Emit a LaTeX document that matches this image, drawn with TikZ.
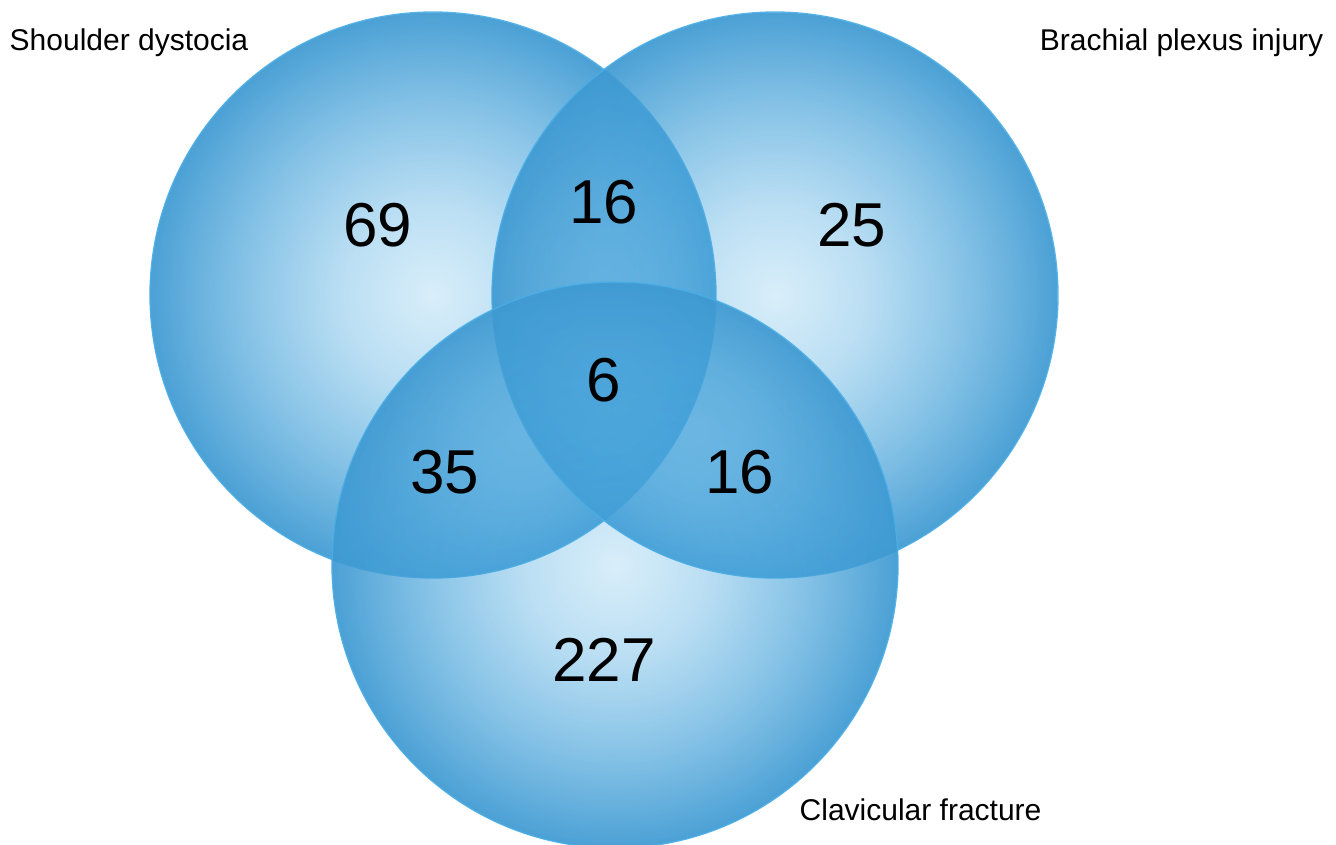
\documentclass[tikz,border=0pt]{standalone}
\usepackage{fontspec}
\setmainfont{Liberation Sans}
\usetikzlibrary{fadings}
\definecolor{ballin}{HTML}{50B0E6}
\definecolor{ballout}{HTML}{3F9AD2}
\definecolor{ballrim}{HTML}{4AAEE6}
\pgfdeclareradialshading{vennball}{\pgfpoint{0bp}{0bp}}{color(0bp)=(ballin); color(25bp)=(ballout); color(50bp)=(ballout)}
\pgfdeclareradialshading{vennalpha}{\pgfpoint{0bp}{0bp}}{color(0bp)=(black!78); color(8bp)=(black!62); color(17.25bp)=(black!33); color(25bp)=(black!6); color(50bp)=(black!6)}
\pgfdeclarefading{vennfade}{\pgfuseshading{vennalpha}}
\begin{document}
\begin{tikzpicture}[
      x=0.75pt,y=-0.75pt,
      ball/.style={shading=vennball, path fading=vennfade},
      rim/.style={draw=ballrim, draw opacity=0.9, line width=1pt},
      count/.style={font=\fontsize{46.5}{46.5}\selectfont},
      setname/.style={font=\fontsize{22.5}{24}\selectfont}
      ]
      \useasboundingbox (0,0) rectangle (1336,844);
      \def\Radius{283}
      \coordinate (SD) at (433,295);
      \coordinate (BP) at (775,295);
      \coordinate (CF) at (615,565);
      
      \shade[ball] (SD) circle (\Radius);
      \draw[rim] (SD) circle (\Radius);
      \shade[ball] (BP) circle (\Radius);
      \draw[rim] (BP) circle (\Radius);
      \shade[ball] (CF) circle (\Radius);
      \draw[rim] (CF) circle (\Radius);
      
      \node[count] (sdonly) at (378,225) {69};
      \node[count] (sdbp) at (604,202) {16};
      \node[count] (bponly) at (852,225) {25};
      \node[count] (all) at (604,380) {6};
      \node[count] (sdcf) at (445,472) {35};
      \node[count] (bpcf) at (740,472) {16};
      \node[count] (cfonly) at (604,660) {227};
      
      \node[setname, anchor=west] (sdname) at (5,43) {Shoulder dystocia};
      \node[setname, anchor=east] (bpname) at (1328,43) {Brachial plexus injury};
      \node[setname, anchor=west] (cfname) at (795,810) {Clavicular fracture};
      \end{tikzpicture}
\end{document}
